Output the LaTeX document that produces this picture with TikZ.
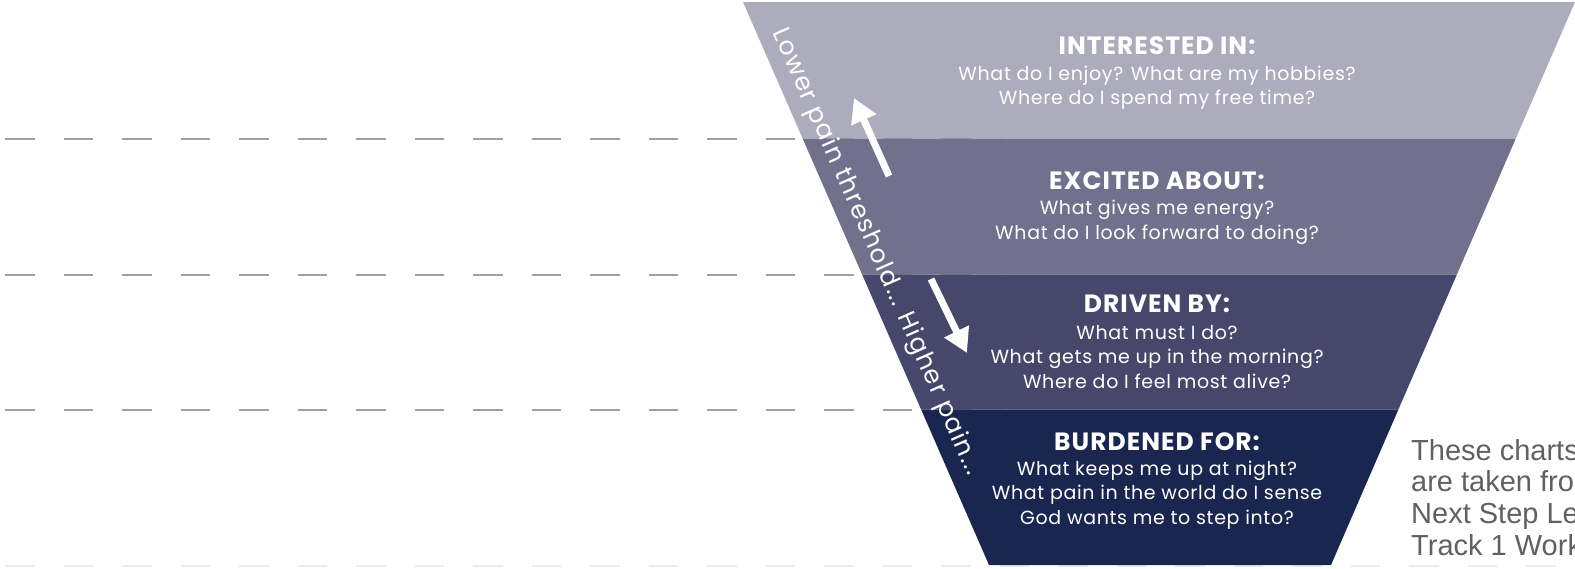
\documentclass[tikz,border=0pt]{standalone}
\usepackage{fontspec}
\setmainfont{Poppins}
\newfontfamily\notefont{Liberation Sans}
\usetikzlibrary{arrows.meta,positioning}
\definecolor{bandA}{HTML}{ADACBD}
\definecolor{bandB}{HTML}{72718D}
\definecolor{bandC}{HTML}{46486B}
\definecolor{bandD}{HTML}{19264F}
\definecolor{notegray}{HTML}{606060}
\definecolor{guidegray}{HTML}{A0A0A0}

\begin{document}
\begin{tikzpicture}[x=1pt,y=-1pt,
	head/.style={text=white,font=\fontsize{25}{28}\selectfont\bfseries\addfontfeatures{LetterSpace=4},inner sep=0pt},
	ask/.style={text=white,font=\fontsize{19}{24.5}\selectfont\addfontfeatures{LetterSpace=3.5},align=center,inner sep=0pt},
	guide/.style={guidegray,line width=1.4pt,dash pattern=on 29.5pt off 29pt},
	bigarrow/.style={white,line width=7pt,-{Triangle[width=26pt,length=24pt]}}]
	\clip (0,0) rectangle (1575,568);
	% dashed guides behind the funnel
	\draw[guide] (5,139) -- (1000,139);
	\draw[guide] (5,275) -- (1000,275);
	\draw[guide] (5,410) -- (1000,410);
	\draw[guide,guidegray!20] (5,566) -- (1575,566);
	% funnel bands
	\fill[bandA] (743,2) -- (1575,2) -- (1515.8,138.5) -- (802.6,138.5) -- cycle;
	\fill[bandB] (802.6,138.5) -- (1515.8,138.5) -- (1456.9,274.5) -- (862.1,274.5) -- cycle;
	\fill[bandC] (862.1,274.5) -- (1456.9,274.5) -- (1398.4,409.5) -- (921.1,409.5) -- cycle;
	\fill[bandD] (921.1,409.5) -- (1398.4,409.5) -- (1331,565) -- (989,565) -- cycle;
	% band texts
	\node[head] (intH) at (1157,46) {INTERESTED IN:};
	\node[ask] (intQ) at (1157,87.5) {What do I enjoy? What are my hobbies?\\Where do I spend my free time?};
	\node[head] (excH) at (1157,181) {EXCITED ABOUT:};
	\node[ask] (excQ) at (1157,222.5) {What gives me energy?\\What do I look forward to doing?};
	\node[head] (drvH) at (1157,304) {DRIVEN BY:};
	\node[ask] (drvQ) at (1157,357) {What must I do?\\What gets me up in the morning?\\Where do I feel most alive?};
	\node[head] (burH) at (1157,442) {BURDENED FOR:};
	\node[ask] (burQ) at (1157,495) {What keeps me up at night?\\What pain in the world do I sense\\God wants me to step into?};
	% pain scale along the side
	\node[text=white,font=\fontsize{25}{28}\selectfont\addfontfeatures{LetterSpace=5},rotate=-66.2] (pain) at (876,252) {Lower pain threshold... Higher pain...};
	\coordinate (upT) at (889,176);
	\coordinate (upH) at (854,98);
	\coordinate (dnT) at (931,279);
	\coordinate (dnH) at (967,353);
	\draw[bigarrow] (upT) -- (upH);
	\draw[bigarrow] (dnT) -- (dnH);
	% source note, cut by the page edge
	\node[anchor=base west,inner sep=0pt,text=notegray,font=\notefont\fontsize{29}{31.6}\selectfont,align=left] (note) at (1411,555) {These charts\\are taken fro\\Next Step Le\\Track 1 Work};
\end{tikzpicture}
\end{document}
